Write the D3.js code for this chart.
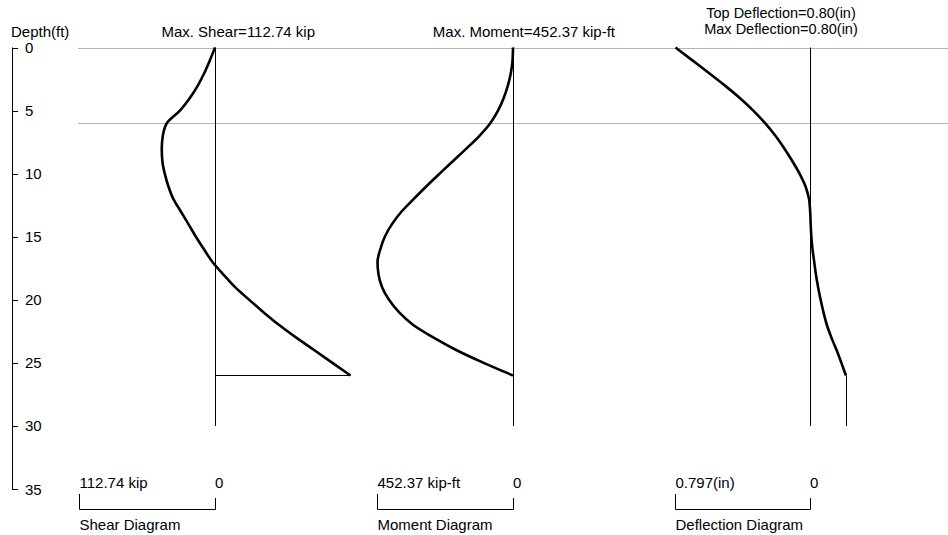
<!DOCTYPE html>
<html><head><meta charset="utf-8">
<script src="https://cdn.jsdelivr.net/npm/d3@7/dist/d3.min.js"></script>
<style>
body{margin:0;background:#fff}
svg text{font-family:"Liberation Sans",Arial,sans-serif;font-size:15px;fill:#000}
</style></head><body>
<svg id="c" width="948" height="535"></svg>
<script>
// ---- data ----
const depthTicks = [0, 5, 10, 15, 20, 25, 30, 35];
const depths = [0,1,2,3,4,5,6,7,8,9,10,11,12,13,14,15,16,17,18,19,20,21,22,23,24,25,26];
const shear = [0,4.2,8.8,14.2,20.9,29.2,40.1,43.4,44.3,43.8,41.8,38.8,34.7,28.4,22.1,15.9,9.2,2.1,-7.0,-16.7,-28.4,-40.5,-53.4,-67.6,-82.7,-97.7,-112.74];
const moment = [0,1.5,7,17,31,50,76,112,155,200,245,289,331,372,404,428,443,452.37,449,437,414,380,333,265,188,98,0];
const deflection = [0.797,0.699,0.601,0.506,0.416,0.336,0.266,0.205,0.152,0.105,0.062,0.027,0.006,-0.001,-0.004,-0.008,-0.015,-0.025,-0.035,-0.048,-0.063,-0.080,-0.100,-0.127,-0.158,-0.186,-0.213];
const pileTip = 30, excavation = 6, embedEnd = 26;
const maxShear = 112.74, maxMoment = 452.37, maxDefl = 0.797;
const titles = {shear:"Max. Shear=112.74 kip", moment:"Max. Moment=452.37 kip-ft", defl1:"Top Deflection=0.80(in)", defl2:"Max Deflection=0.80(in)"};
const scaleLabels = ["112.74 kip","452.37 kip-ft","0.797(in)"];
const diagNames = ["Shear Diagram","Moment Diagram","Deflection Diagram"];

// ---- drawing ----
const svg = d3.select("#c");
const y = d3.scaleLinear().domain([0,35]).range([47.5,489]);

// gray reference lines
[0, excavation].forEach(d=>{
  svg.append("line").attr("x1",78).attr("x2",948).attr("y1",Math.round(y(d))+0.5).attr("y2",Math.round(y(d))+0.5)
    .attr("stroke","#b4b4b4").attr("stroke-width",1);
});

// depth axis
svg.append("text").attr("x",11).attr("y",37).text("Depth(ft)");
svg.append("line").attr("x1",12.5).attr("x2",12.5).attr("y1",y(0)).attr("y2",y(35)).attr("stroke","#000");
depthTicks.forEach(t=>{
  svg.append("line").attr("x1",12).attr("x2",18).attr("y1",Math.round(y(t))+0.5).attr("y2",Math.round(y(t))+0.5).attr("stroke","#000");
  svg.append("text").attr("x",25).attr("y",y(t)+5.5).text(t);
});

const panels = [
  {vals:shear, max:maxShear, zero:215, left:79.5},
  {vals:moment, max:maxMoment, zero:513, left:377.5},
  {vals:deflection, max:maxDefl, zero:810, left:675.5}
];
panels.forEach((p,i)=>{
  const x = d3.scaleLinear().domain([0,p.max]).range([p.zero,p.left]);
  svg.append("line").attr("x1",p.zero+0.5).attr("x2",p.zero+0.5).attr("y1",y(0)).attr("y2",y(pileTip)).attr("stroke","#000");
  const line = d3.line().x((d,j)=>x(p.vals[j])).y(d=>y(d)).curve(d3.curveMonotoneY);
  svg.append("path").attr("d",line(depths)).attr("fill","none").attr("stroke","#000").attr("stroke-width",2.6);
  svg.append("path").attr("d",`M${p.left},${494}V${509.5}H${p.zero+0.5}V${498}`).attr("fill","none").attr("stroke","#000");
  svg.append("text").attr("x",p.left).attr("y",488).text(scaleLabels[i]);
  svg.append("text").attr("x",p.zero).attr("y",488).text("0");
  svg.append("text").attr("x",p.left).attr("y",530).text(diagNames[i]);
  if(i===0){
    const last = p.vals[p.vals.length-1];
    svg.append("line").attr("x1",p.zero).attr("x2",x(last)).attr("y1",Math.round(y(embedEnd))+0.5).attr("y2",Math.round(y(embedEnd))+0.5).attr("stroke","#000");
  }
  if(i===2){
    const last = p.vals[p.vals.length-1];
    svg.append("line").attr("x1",Math.round(x(last))+0.5).attr("x2",Math.round(x(last))+0.5).attr("y1",y(embedEnd)).attr("y2",y(pileTip)).attr("stroke","#000");
  }
});

svg.append("text").attr("x",315).attr("y",37).attr("text-anchor","end").text(titles.shear);
svg.append("text").attr("x",615).attr("y",37).attr("text-anchor","end").text(titles.moment);
svg.append("text").attr("x",781).attr("y",18).attr("text-anchor","middle").style("font-size","14.5px").text(titles.defl1);
svg.append("text").attr("x",781).attr("y",34).attr("text-anchor","middle").style("font-size","14.5px").text(titles.defl2);
</script>
</body></html>
